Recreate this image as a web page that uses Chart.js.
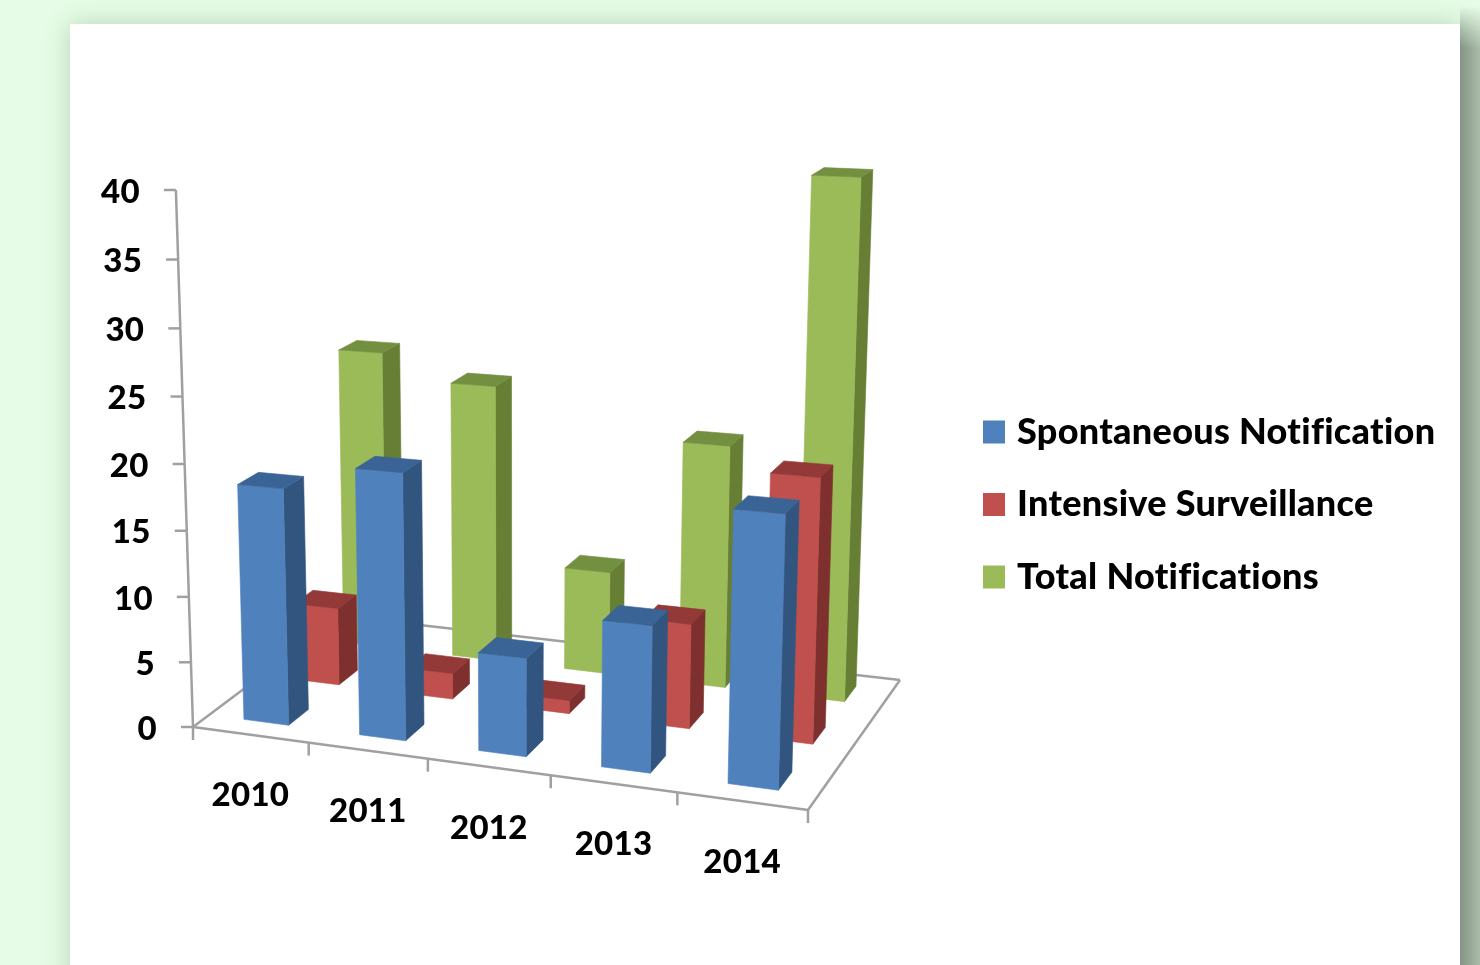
<!DOCTYPE html>
<html><head><meta charset="utf-8">
<style>
html,body{margin:0;padding:0;width:1480px;height:965px;overflow:hidden;background:#E6FCE6}
#card{position:absolute;left:70px;top:24px;width:1390px;height:1000px;background:#fff;box-shadow:0 0 24px rgba(40,80,40,.24)}
#strip{position:absolute;left:1460px;top:6px;width:20px;height:959px;background:linear-gradient(to right,#849484,#abbcab);-webkit-mask-image:linear-gradient(to bottom,transparent 0,#000 42px)}
#wrap{position:absolute;left:0;top:0;width:1480px;height:965px}
#c{filter:blur(.7px)}
</style>
<script src="https://cdn.jsdelivr.net/npm/chart.js@4/dist/chart.umd.js"></script>
</head><body><div id="card"></div><div id="strip"></div><div id="wrap"><canvas id="c" width="1480" height="965"></canvas></div>
<script>
const categories = ['2010','2011','2012','2013','2014'];
const spontaneous = [18,20,7.3,10.7,19.5];
const intensive = [6.1,2,1,7.9,19.6];
const total = [24,22,8.1,18.8,39.3];
const seriesNames = ['Spontaneous Notification','Intensive Surveillance','Total Notifications'];

const FRONT=['#4F81BD','#C0504D','#9BBB59'], SIDE=['#32557F','#7D302E','#667F35'], TOP=['#3A6496','#933937','#739040'];
const ROW=[0.1,0.44,0.78], DEPTH=0.13, AXIS='#A0A0A0';
const FONT='"Lato","Noto Sans",sans-serif';
// floor homography (unit square to floor quad), derived from its four corners
const g=-0.0896,hh=0.1149,a=542.6,b=187.2,c=193,d=10.4,e=-40.2,f=727, VPX=520,VPY=11000;
function floor(u0,v){const u=u0+0.018*u0*(1-u0),w=1+g*u+hh*v;return {x:(a*u+b*v+c)/w,y:(d*u+e*v+f)/w,w};}
function lift(u,v,px){const p=floor(u,v),t0=px/537,h=(px-22*t0*(1-t0))/p.w,t=h/(VPY-p.y);return {x:p.x+(p.x-VPX)*t,y:p.y-h};}
function quad(ctx,pts,col){ctx.beginPath();pts.forEach((p,i)=>i?ctx.lineTo(p.x,p.y):ctx.moveTo(p.x,p.y));ctx.closePath();ctx.fillStyle=col;ctx.strokeStyle=col;ctx.lineWidth=.6;ctx.fill();ctx.stroke();}
function line(ctx,p,q){ctx.beginPath();ctx.moveTo(p.x,p.y);ctx.lineTo(q.x,q.y);ctx.stroke();}

const box3d={id:'box3d',
 afterLayout(chart){const l=chart.legend;l.left=952.5;l.top=377.5;l.right=1480;l.bottom=965;},
 beforeDraw(chart){chart.ctx.letterSpacing='0.3px';},
 beforeDatasetsDraw(chart){
  const ctx=chart.ctx,{x:xs,y:ys}=chart.scales;
  ctx.save();ctx.strokeStyle=AXIS;ctx.lineWidth=2.5;
  const A=floor(0,0),B=floor(1,0),C=floor(1,1),D=floor(0,1);
  line(ctx,D,A);line(ctx,A,B);line(ctx,B,C);line(ctx,C,D);
  const base=ys.getPixelForValue(0);
  line(ctx,A,lift(0,0,base-ys.getPixelForValue(ys.max)));
  ys.ticks.forEach(t=>{const p=lift(0,0,base-ys.getPixelForValue(t.value));line(ctx,p,{x:p.x-12,y:p.y});});
  for(let i=0;i<=categories.length;i++){const p=floor(i/categories.length,0);line(ctx,p,{x:p.x,y:p.y+13});}
  ctx.restore();
 },
 beforeDatasetDraw(chart,args){
  const ctx=chart.ctx,ca=chart.chartArea,W=ca.right-ca.left,i=args.index,v0=ROW[i],v1=v0+DEPTH;
  args.meta.data.forEach(el=>{
   const u0=(el.x-el.width/2-ca.left)/W,u1=(el.x+el.width/2-ca.left)/W,h=el.base-el.y;
   const fl=lift(u0,v0,0),fr=lift(u1,v0,0),br=lift(u1,v1,0);
   const tfl=lift(u0,v0,h),tfr=lift(u1,v0,h),tbr=lift(u1,v1,h),tbl=lift(u0,v1,h);
   quad(ctx,[fr,br,tbr,tfr],SIDE[i]);
   quad(ctx,[fl,fr,tfr,tfl],FRONT[i]);
   quad(ctx,[tfl,tfr,tbr,tbl],TOP[i]);
  });
  return false;
 },
 afterDraw(chart){
  const ctx=chart.ctx,{x:xs,y:ys}=chart.scales,W=chart.chartArea.right-chart.chartArea.left;
  ctx.save();ctx.fillStyle='#000';ctx.font='900 33px '+FONT;ctx.textBaseline='middle';
  const base=ys.getPixelForValue(0);
  ctx.textAlign='right';
  ys.ticks.forEach(t=>{const p=lift(0,0,base-ys.getPixelForValue(t.value));ctx.fillText(String(t.value),p.x-36,p.y+2);});
  ctx.textAlign='center';
  categories.forEach((lab,i)=>{const p=floor((xs.getPixelForValue(i)-chart.chartArea.left)/W,0);ctx.fillText(lab,p.x,p.y+61);});
  ctx.restore();
 }};

new Chart(document.getElementById('c'),{
 type:'bar',
 data:{labels:categories,datasets:[spontaneous,intensive,total].map((data,i)=>({label:seriesNames[i],data,backgroundColor:FRONT[i],grouped:false,barPercentage:.39,categoryPercentage:1}))},
 options:{responsive:false,animation:false,
  layout:{padding:{left:193,right:672,top:190,bottom:238}},
  scales:{x:{display:false},y:{display:false,min:0,max:40,ticks:{stepSize:5}}},
  plugins:{tooltip:{enabled:false},
   legend:{position:'chartArea',align:'start',labels:{color:'#000',font:{family:FONT,size:36,weight:'900'},boxWidth:10,boxHeight:11,padding:36.5,
    generateLabels(chart){return chart.data.datasets.map((ds,i)=>({text:ds.label,fillStyle:FRONT[i],strokeStyle:FRONT[i],lineWidth:12,datasetIndex:i,hidden:false}));}}}}},
 plugins:[box3d]});
</script></body></html>
